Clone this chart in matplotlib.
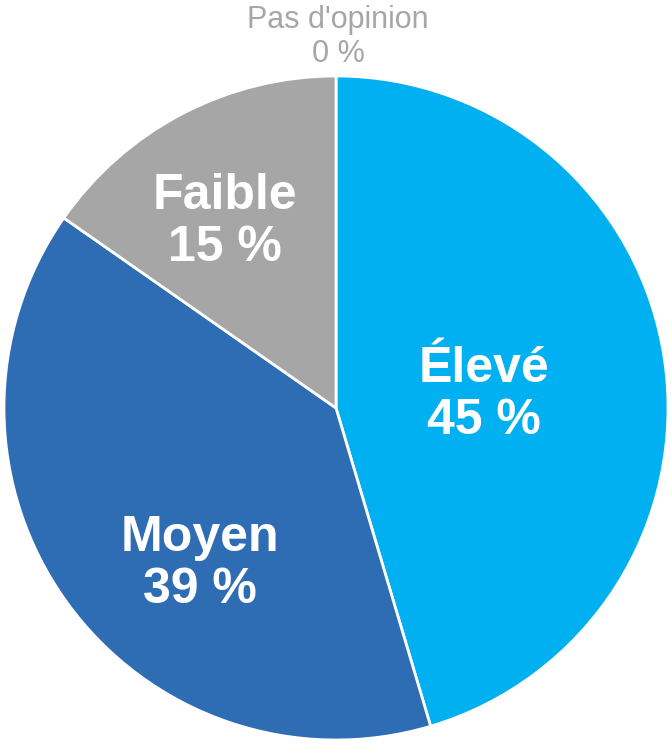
import matplotlib
matplotlib.use("Agg")
import matplotlib.pyplot as plt

categories = ["Élevé", "Moyen", "Faible", "Pas d'opinion"]
values = [45.4, 39.3, 15.3, 0.0]
pct_labels = ["45 %", "39 %", "15 %", "0 %"]
colors = ["#00B0F0", "#2E6DB4", "#A6A6A6", "#A6A6A6"]

plt.rcParams['font.family'] = ['Liberation Sans', 'DejaVu Sans']

fig = plt.figure(figsize=(6.71, 7.44), dpi=100)
ax = fig.add_axes([4/671, 4/744, 664/671, 664/744])
ax.pie(values[:3], colors=colors[:3], startangle=90, counterclock=False,
       radius=1, wedgeprops=dict(edgecolor="white", linewidth=2))
ax.set_xlim(-1, 1)
ax.set_ylim(-1, 1)
ax.set_aspect("equal")
ax.axis("off")

pos = [(0.447, 0.039), (-0.410, -0.470), (-0.334, 0.560), (0.006, 1.117)]
for i, (cat, lab) in enumerate(zip(categories, pct_labels)):
    x, y = pos[i]
    if i < 3:
        ax.text(x, y, f"{cat}\n{lab}", ha="center", va="center", fontsize=36,
                fontweight="bold", color="white", linespacing=1.15, clip_on=False)
    else:
        ax.text(x, y, f"{cat}\n{lab}", ha="center", va="center", fontsize=22,
                color="#A6A6A6", linespacing=1.2, clip_on=False)

fig.savefig("out.png", dpi=100)
